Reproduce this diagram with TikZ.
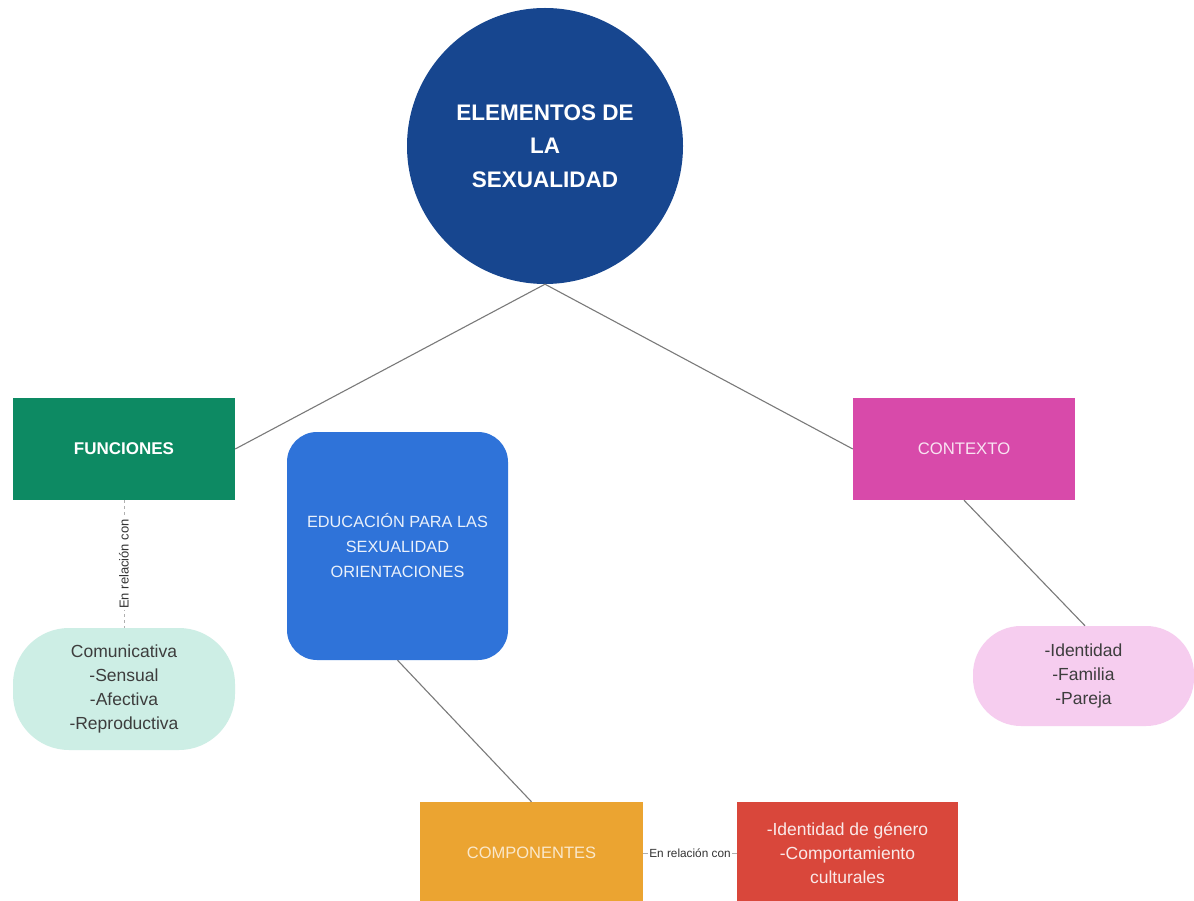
\documentclass[tikz,border=0pt]{standalone}
\usepackage{fontspec}
\setmainfont{Liberation Sans}
\begin{document}
\begin{tikzpicture}[x=1pt,y=-1pt,
  box/.style={rectangle,inner sep=0pt,minimum width=222pt,minimum height=102pt,align=center},
  pill/.style={rectangle,inner sep=0pt,align=center,text=txtgray,font=\fontsize{17.5}{24}\selectfont},
  conn/.style={draw=linegray,line width=1.1pt},
  rel/.style={fill=white,inner sep=1pt,text=black!80,font=\fontsize{11.8}{13}\selectfont}
]
\definecolor{cblue}{HTML}{17468F}
\definecolor{cgreen}{HTML}{0D8A63}
\definecolor{cmint}{HTML}{CDEEE5}
\definecolor{cedu}{HTML}{2F73D9}
\definecolor{cmag}{HTML}{D84AAA}
\definecolor{cpink}{HTML}{F6CDEF}
\definecolor{corange}{HTML}{EBA431}
\definecolor{cred}{HTML}{D9473B}
\definecolor{txtgray}{HTML}{3D3D3D}
\definecolor{linegray}{HTML}{7A7A7A}
\useasboundingbox (0,0) rectangle (1194,901);
\fill[white] (0,0) rectangle (1194,901);

\node[circle,fill=cblue,minimum size=276pt,inner sep=0pt,text=white,align=center,
  font=\bfseries\fontsize{22.5}{33.5}\selectfont] (main) at (545,146) {ELEMENTOS DE\\LA\\SEXUALIDAD};

\node[box,fill=cgreen,text=white,font=\bfseries\fontsize{17}{20}\selectfont] (fun) at (124,449) {FUNCIONES};
\node[pill,fill=cmint,minimum width=222pt,minimum height=122pt,rounded corners=56pt] (com) at (124,689)
  {Comunicativa\\-Sensual\\-Afectiva\\-Reproductiva};

\node[rectangle,fill=cedu,minimum width=221pt,minimum height=228pt,rounded corners=30pt,inner sep=0pt,
  align=center,text=white!90!cedu,font=\fontsize{16.3}{25}\selectfont] (edu) at (397.5,546)
  {EDUCACIÓN PARA LAS\\SEXUALIDAD\\ORIENTACIONES};

\node[box,fill=cmag,text=white!85!cmag,font=\fontsize{16.7}{20}\selectfont] (ctx) at (964,449) {CONTEXTO};
\node[pill,fill=cpink,minimum width=221pt,minimum height=100pt,rounded corners=48pt] (idp) at (1083.5,676)
  {-Identidad\\-Familia\\-Pareja};

\node[box,fill=corange,minimum width=223pt,text=white!75!corange,font=\fontsize{16.5}{20}\selectfont] (cmp) at (531.5,853) {COMPONENTES};
\node[box,fill=cred,minimum width=221pt,text=white!88!cred,font=\fontsize{17.5}{24}\selectfont] (cul) at (847.5,853)
  {-Identidad de género\\-Comportamiento\\culturales};

\draw[conn] (main.south) -- (fun.east);
\draw[conn] (main.south) -- (ctx.west);
\draw[conn] (edu.south) -- (cmp.north);
\draw[conn] (ctx.south) -- ([xshift=1.5pt]idp.north);
\draw[draw=linegray!60,line width=0.8pt,dashed] (fun.south) -- node[rel,rotate=90,font=\fontsize{13}{14}\selectfont] {En relación con} (com.north);
\draw[draw=linegray!60,line width=0.8pt] (cmp.east) -- node[rel] {En relación con} (cul.west);
\end{tikzpicture}
\end{document}
